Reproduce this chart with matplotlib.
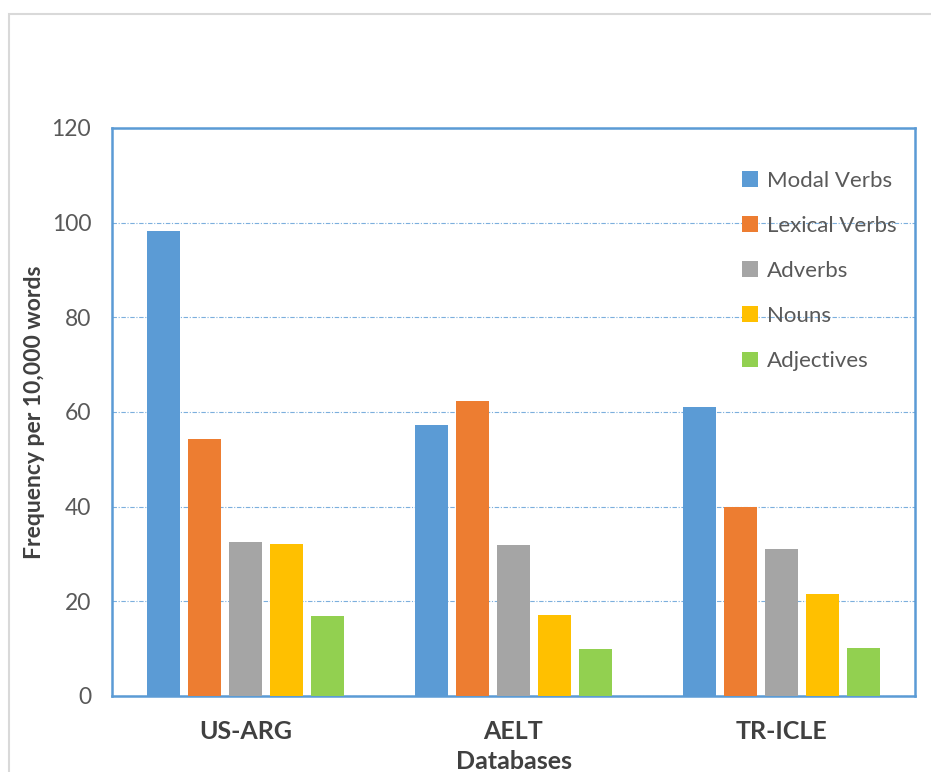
import matplotlib
matplotlib.use("Agg")
import matplotlib.pyplot as plt
import numpy as np
from matplotlib.patches import Rectangle

plt.rcParams['font.family'] = ['Lato', 'DejaVu Sans']

categories = ["US-ARG", "AELT", "TR-ICLE"]
series = ["Modal Verbs", "Lexical Verbs", "Adverbs", "Nouns", "Adjectives"]
modal_verbs = [98.2, 57.2, 61.1]
lexical_verbs = [54.2, 62.4, 39.9]
adverbs = [32.6, 31.8, 31.1]
nouns = [32.2, 17.2, 21.6]
adjectives = [17.0, 9.9, 10.2]
values = [modal_verbs, lexical_verbs, adverbs, nouns, adjectives]
colors = ["#5B9BD5", "#ED7D31", "#A5A5A5", "#FFC000", "#92D050"]
yticks = [0, 20, 40, 60, 80, 100, 120]

fig = plt.figure(figsize=(9.31, 7.72), dpi=100)
fig.patches.append(Rectangle((9/931, -0.1), 1.2, 1 - 14/772 + 0.1, transform=fig.transFigure,
                             fill=False, edgecolor="#D9D9D9", linewidth=1.5))
ax = fig.add_axes([112/931, 1 - 696/772, (915 - 112)/931, (696 - 128)/772])

x = np.arange(len(categories))
step = 0.153
width = 0.123
for j, (name, vals, c) in enumerate(zip(series, values, colors)):
    ax.bar(x + (j - 2) * step, vals, width, color=c, label=name, zorder=3)

ax.set_xlim(-0.5, 2.5)
ax.set_ylim(0, 120)
ax.set_yticks(yticks)
ax.yaxis.grid(True, linestyle=(0, (4, 1.5, 1, 1.5)), color="#5B9BD5", linewidth=0.8, alpha=0.8, zorder=0)
ax.tick_params(axis='y', length=0, labelsize=16.5, labelcolor="#595959", pad=15)
ax.tick_params(axis='x', length=0, labelsize=18, labelcolor="#404040", pad=17)
ax.set_xticks(x)
ax.set_xticklabels(categories, fontweight='bold')
for s in ax.spines.values():
    s.set_color("#5B9BD5")
    s.set_linewidth(1.8)

ax.set_ylabel("Frequency per 10,000 words", fontsize=16.5, fontweight='bold', color="#404040", labelpad=5)
ax.set_xlabel("Databases", fontsize=18, fontweight='bold', color="#404040", labelpad=5)

leg = ax.legend(loc='upper left', bbox_to_anchor=(0.76, 0.96), frameon=False, fontsize=16,
                handlelength=0.7, handleheight=0.7, labelspacing=1.13, handletextpad=0.4,
                labelcolor="#595959")

fig.savefig("out.png", dpi=100)
